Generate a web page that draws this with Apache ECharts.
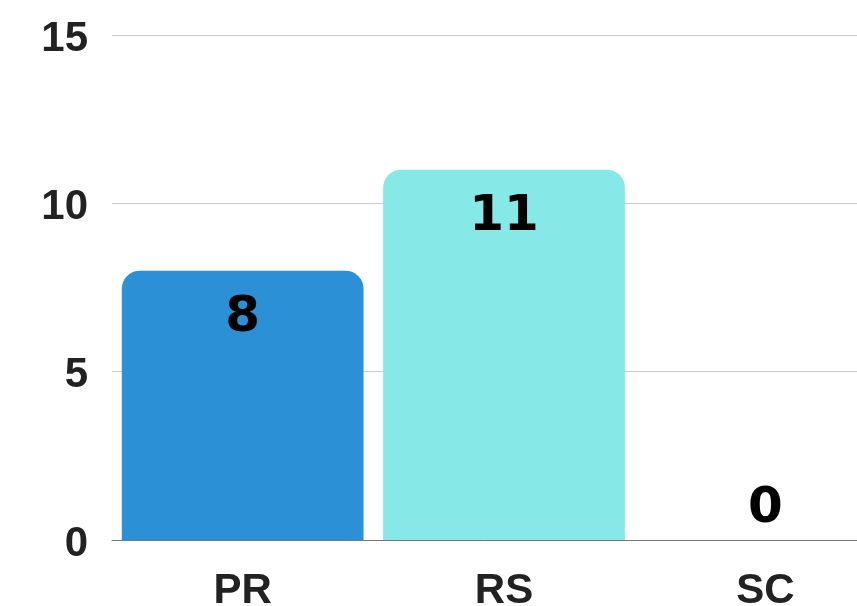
<!DOCTYPE html>
<html>
<head>
<meta charset="utf-8">
<script src="https://cdn.jsdelivr.net/npm/echarts@6/dist/echarts.min.js"></script>
<style>
  html, body { margin: 0; padding: 0; background: #fff; }
  #chart { width: 857px; height: 606px; }
</style>
</head>
<body>
<div id="chart"></div>
<script>
// 数据
const categories = ["PR", "RS", "SC"];
const values = [8, 11, 0];
const barColors = ["#2B90D6", "#86E8E7", "#86E8E7"];
const yTicks = [0, 5, 10, 15];

const chart = echarts.init(document.getElementById("chart"));

const option = {
  animation: false,
  grid: {
    left: 112,
    top: 35,
    width: 784,
    height: 505,
    // v6 默认会把网格缩进画布内，这里关掉
    outerBoundsMode: "none",
    containLabel: false,
  },
  xAxis: {
    type: "category",
    data: categories,
    axisTick: { show: false },
    axisLine: { lineStyle: { color: "#777", width: 1 } },
    axisLabel: {
      color: "#222",
      fontSize: 42,
      fontWeight: "bold",
      fontFamily: "Liberation Sans",
      margin: 30,
    },
  },
  yAxis: {
    type: "value",
    min: yTicks[0],
    max: yTicks[yTicks.length - 1],
    interval: 5,
    axisLine: { show: false },
    axisTick: { show: false },
    splitLine: { lineStyle: { color: "#ccc", width: 1 } },
    axisLabel: {
      color: "#222",
      fontSize: 42,
      fontWeight: "bold",
      fontFamily: "Liberation Sans",
      margin: 24,
      verticalAlign: "top",
      padding: [-17, 0, 0, 0],
    },
  },
  series: [
    {
      type: "bar",
      barCategoryGap: "7.5%",
      data: values.map((v, i) => ({
        value: v,
        itemStyle: { color: barColors[i] },
        // 0 的时候标签放在柱子上方
        label: v === 0 ? { position: "top", distance: 6 } : {},
      })),
      itemStyle: { borderRadius: [18, 18, 0, 0] },
      label: {
        show: true,
        position: "insideTop",
        distance: 22,
        color: "#000",
        fontSize: 50,
        fontWeight: "bold",
        fontFamily: "DejaVu Sans",
      },
    },
  ],
};

chart.setOption(option);
</script>
</body>
</html>
